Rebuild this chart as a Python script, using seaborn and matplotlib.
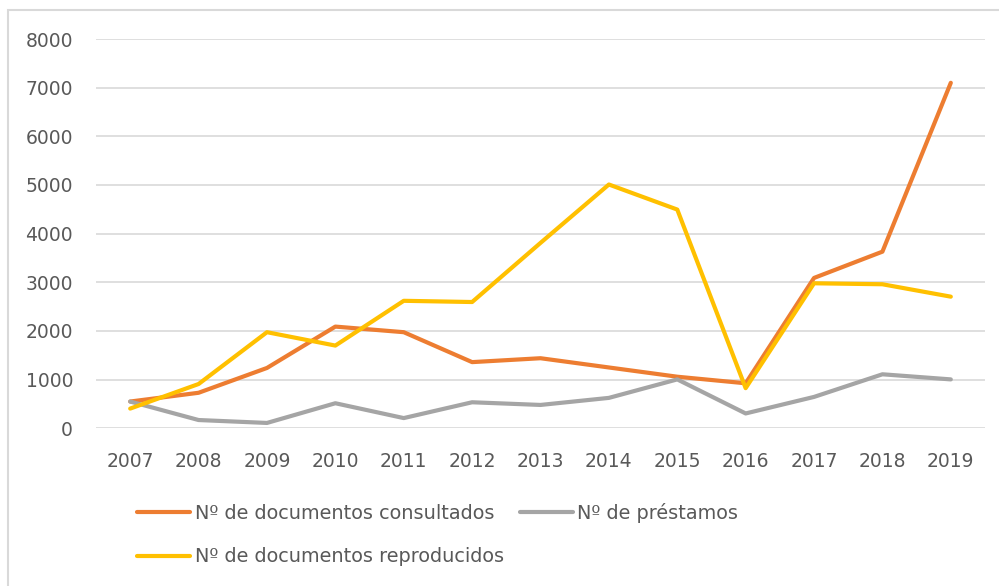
import matplotlib
matplotlib.use("Agg")
import matplotlib.pyplot as plt
from matplotlib.patches import Rectangle
from matplotlib.lines import Line2D
import seaborn as sns
import pandas as pd

years = [2007, 2008, 2009, 2010, 2011, 2012, 2013, 2014, 2015, 2016, 2017, 2018, 2019]
consultados = [550, 730, 1240, 2090, 1975, 1360, 1440, 1250, 1060, 925, 3090, 3630, 7100]
prestamos = [550, 170, 110, 515, 210, 535, 480, 625, 1005, 305, 645, 1110, 1005]
reproducidos = [405, 910, 1975, 1700, 2620, 2595, 3810, 5010, 4495, 825, 2980, 2960, 2705]

names = ["Nº de documentos consultados", "Nº de préstamos", "Nº de documentos reproducidos"]
colors = ["#ED7D31", "#A5A5A5", "#FFC000"]
yticks = [0, 1000, 2000, 3000, 4000, 5000, 6000, 7000, 8000]

df = pd.concat([
    pd.DataFrame({"year": years, "value": consultados, "serie": names[0]}),
    pd.DataFrame({"year": years, "value": prestamos, "serie": names[1]}),
    pd.DataFrame({"year": years, "value": reproducidos, "serie": names[2]}),
])

sns.set_theme(style="white")
plt.rcParams["font.family"] = ["DejaVu Sans"]
TXT = "#595959"
FS = 13.5
LFS = 13.9

fig = plt.figure(figsize=(9.99, 5.86), dpi=100)
ax = fig.add_axes([96 / 999, 1 - 428.3 / 586, (985 - 96) / 999, (428.3 - 39) / 586])

for y in yticks:
    ax.axhline(y, color="#d9d9d9", lw=1.2, zorder=0)

sns.lineplot(data=df, x="year", y="value", hue="serie", hue_order=names,
             palette=dict(zip(names, colors)), linewidth=3.0, legend=False, ax=ax,
             solid_capstyle="round", solid_joinstyle="round")

ax.set_xlim(years[0] - 0.5, years[-1] + 0.5)
ax.set_ylim(0, 8000)
ax.set_xticks(years)
ax.set_xticklabels([str(y) for y in years])
ax.set_yticks(yticks)
ax.set_yticklabels([str(y) for y in yticks])
ax.tick_params(axis="both", length=0, labelsize=FS, labelcolor=TXT)
ax.tick_params(axis="y", pad=16.5)
ax.tick_params(axis="x", pad=17)
ax.set_xlabel("")
ax.set_ylabel("")
for s in ax.spines.values():
    s.set_visible(False)

# outer chart frame (cropped)
fig.patches.append(Rectangle((8 / 999, -0.05), 1.05, (586 - 10) / 586 + 0.05,
                             transform=fig.transFigure, fill=False,
                             edgecolor="#d9d9d9", lw=1.5))

def handle(c):
    return Line2D([], [], color=c, lw=3.0, solid_capstyle="round")

leg1 = fig.legend([handle(colors[0]), handle(colors[1])], names[:2], ncol=2,
                  loc="center left", bbox_to_anchor=(137 / 999, 1 - 513 / 586),
                  frameon=False, fontsize=LFS, labelcolor=TXT, handlelength=2.75,
                  handletextpad=0.25, columnspacing=1.3, borderaxespad=0, borderpad=0)
leg2 = fig.legend([handle(colors[2])], names[2:], ncol=1,
                  loc="center left", bbox_to_anchor=(137 / 999, 1 - 557 / 586),
                  frameon=False, fontsize=LFS, labelcolor=TXT, handlelength=2.75,
                  handletextpad=0.25, borderaxespad=0, borderpad=0)

fig.savefig("out.png", dpi=100)
